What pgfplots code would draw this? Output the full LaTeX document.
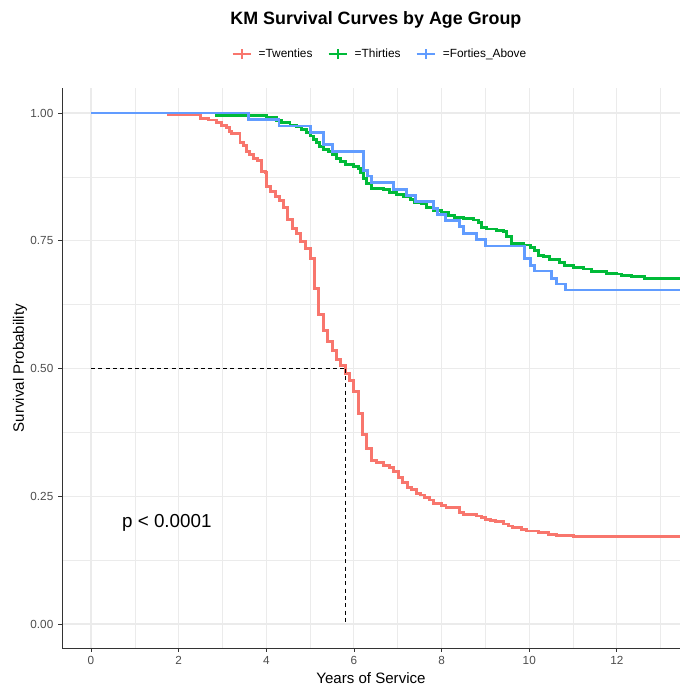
\documentclass[border=0pt]{standalone}
\usepackage{pgfplots}
\pgfplotsset{compat=1.18}
\usepackage{fontspec}
\setmainfont{Liberation Sans}

\definecolor{cTw}{HTML}{F8766D}
\definecolor{cTh}{HTML}{00BA38}
\definecolor{cFo}{HTML}{619CFF}
\definecolor{gridc}{HTML}{EBEBEB}
\definecolor{axisc}{HTML}{333333}
\definecolor{tickc}{HTML}{4D4D4D}

\begin{document}
\begin{tikzpicture}
\useasboundingbox (0,0) rectangle (510pt,514.5pt);
\begin{axis}[
  at={(46.5pt,28.5pt)}, anchor=south west,
  scale only axis, width=463.5pt, height=420pt,
  xmin=-0.662, xmax=13.44, ymin=-0.047, ymax=1.049,
  axis x line*=bottom, axis y line*=left,
  axis line style={axisc, line width=0.65pt, -},
  tick align=outside, major tick length=3pt, minor tick length=0pt,
  tick style={axisc, line width=0.65pt},
  xtick={0,2,4,6,8,10,12}, xticklabels={0,2,4,6,8,10,12},
  ytick={0,0.25,0.5,0.75,1}, yticklabels={0.00,0.25,0.50,0.75,1.00},
  minor xtick={1,3,5,7,9,11,13},
  minor ytick={0.125,0.375,0.625,0.875},
  grid=both,
  major grid style={gridc, line width=0.8pt},
  minor grid style={gridc, line width=0.5pt},
  ticklabel style={font=\fontsize{8.8}{10}\selectfont, text=tickc},
  xlabel={Years of Service}, ylabel={Survival Probability},
  label style={font=\fontsize{11.3}{13}\selectfont},
  xlabel style={at={(axis description cs:0.5,-0.0536)}, anchor=center},
  ylabel style={at={(axis description cs:-0.068,0.5)}, anchor=center, rotate=0},
  title={KM Survival Curves by Age Group},
  title style={at={(axis description cs:0.508,1.107)}, anchor=center,
    font=\bfseries\fontsize{13.4}{16}\selectfont},
  legend columns=3,
  legend style={at={(axis description cs:0.5146,1.0607)}, anchor=center,
    draw=none, fill=none, font=\fontsize{8.9}{10}\selectfont,
    /tikz/every odd column/.append style={column sep=3pt},
    /tikz/every even column/.append style={column sep=9pt}},
  legend image code/.code={
    \draw[#1, line width=2.2pt] (0pt,0pt) -- (13.5pt,0pt);
    \draw[#1, line width=1.6pt] (6.75pt,-3.75pt) -- (6.75pt,3.75pt);
  },
  clip=true,
]
% Twenties
\addplot[cTw, line width=2.2pt, const plot] coordinates {
(0,1) (1.76,0.998) (2.18,0.9967) (2.49,0.9896) (2.68,0.9863) (2.87,0.982)
(2.98,0.9765) (3.10,0.972) (3.17,0.9635) (3.21,0.9596) (3.40,0.942)
(3.49,0.937) (3.54,0.924) (3.61,0.918) (3.70,0.911) (3.79,0.908)
(3.88,0.886) (3.99,0.883) (4.01,0.856) (4.10,0.847) (4.20,0.837)
(4.30,0.828) (4.39,0.816) (4.49,0.791) (4.60,0.774) (4.69,0.764)
(4.79,0.749) (4.89,0.735) (5.00,0.716) (5.10,0.657) (5.20,0.605)
(5.30,0.575) (5.40,0.553) (5.51,0.536) (5.61,0.517) (5.70,0.505)
(5.80,0.491) (5.89,0.477) (6.00,0.455) (6.10,0.412) (6.20,0.371)
(6.29,0.343) (6.40,0.320) (6.52,0.3157) (6.68,0.311) (6.81,0.3066)
(6.91,0.298) (7.01,0.287) (7.11,0.277) (7.22,0.2675) (7.32,0.264)
(7.42,0.2557) (7.52,0.2524) (7.62,0.2479) (7.72,0.2427) (7.81,0.236)
(8.00,0.232) (8.10,0.228) (8.40,0.2185) (8.49,0.214) (8.80,0.2113)
(8.91,0.208) (9.01,0.2048) (9.12,0.202) (9.22,0.200) (9.41,0.1957)
(9.52,0.1918) (9.62,0.189) (9.83,0.185) (9.94,0.182) (10.21,0.1794)
(10.43,0.176) (10.62,0.174) (10.74,0.1728) (11.00,0.1709) (13.44,0.1709)
};
\addlegendentry{=Twenties}
% Thirties
\addplot[cTh, line width=2.2pt, const plot] coordinates {
(0,1) (2.87,0.996) (3.55,0.9948) (4.01,0.9915) (4.24,0.986) (4.35,0.981)
(4.54,0.9765) (4.69,0.973) (4.81,0.967) (4.92,0.962) (5.00,0.955)
(5.07,0.948) (5.15,0.942) (5.22,0.934) (5.30,0.929) (5.41,0.924)
(5.51,0.918) (5.61,0.911) (5.70,0.905) (5.80,0.8995) (5.98,0.896)
(6.10,0.892) (6.14,0.883) (6.21,0.872) (6.29,0.862) (6.40,0.8526)
(6.67,0.8507) (6.81,0.844) (6.97,0.841) (7.13,0.836) (7.28,0.831)
(7.39,0.8245) (7.54,0.822) (7.66,0.8154) (7.81,0.810) (8.00,0.805)
(8.15,0.800) (8.30,0.796) (8.49,0.793) (8.72,0.7906) (8.84,0.7853)
(8.91,0.7756) (9.03,0.773) (9.26,0.771) (9.41,0.7677) (9.48,0.758)
(9.60,0.745) (9.86,0.7417) (10.02,0.737) (10.11,0.7306) (10.21,0.722)
(10.32,0.7188) (10.47,0.7137) (10.70,0.707) (10.81,0.701) (11.00,0.698)
(11.23,0.6947) (11.42,0.6895) (11.77,0.6863) (11.99,0.685) (12.11,0.6817)
(12.34,0.680) (12.64,0.6765) (13.44,0.6765)
};
\addlegendentry{=Thirties}
% Forties and above
\addplot[cFo, line width=2.2pt, const plot] coordinates {
(0,1) (3.59,0.9876) (4.29,0.9746) (5.01,0.962) (5.30,0.9387) (5.50,0.925)
(6.21,0.888) (6.30,0.8767) (6.40,0.8637) (6.90,0.8506) (7.20,0.8395)
(7.41,0.8265) (7.81,0.8135) (7.90,0.8023) (8.09,0.789) (8.40,0.7775)
(8.49,0.7645) (8.80,0.7528) (9.01,0.7397) (9.90,0.7156) (10.02,0.7025)
(10.11,0.6908) (10.51,0.6765) (10.62,0.6654) (10.83,0.6536) (13.44,0.6536)
};
\addlegendentry{=Forties\_Above}
% median survival guide lines
\addplot[black, line width=0.8pt, dash pattern=on 3pt off 2.5pt, forget plot]
  coordinates {(0,0.5) (5.8,0.5)};
\addplot[black, line width=0.8pt, dash pattern=on 3pt off 2.5pt, forget plot]
  coordinates {(5.8,0.5) (5.8,0)};
\node[font=\fontsize{14.1}{16}\selectfont, anchor=center] at (axis cs:1.73,0.198) {p < 0.0001};
\end{axis}
\end{tikzpicture}
\end{document}
